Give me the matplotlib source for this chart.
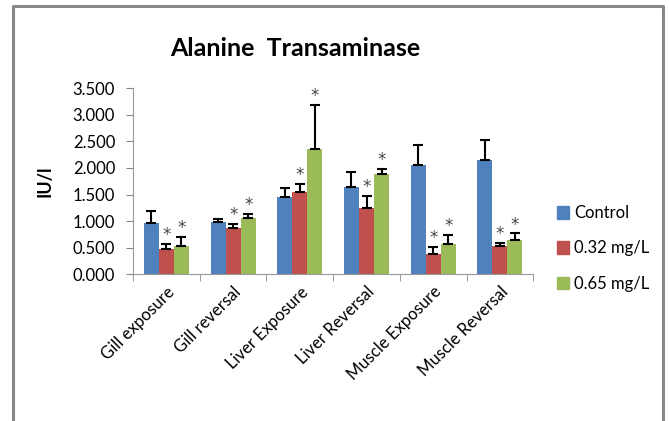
import matplotlib.pyplot as plt
import matplotlib.patches as mpatches
import numpy as np

plt.rcParams["font.family"] = ["Lato", "DejaVu Sans"]

categories = ["Gill exposure", "Gill reversal", "Liver Exposure",
              "Liver Reversal", "Muscle Exposure", "Muscle Reversal"]
control = [0.96, 0.99, 1.46, 1.64, 2.06, 2.15]
control_err = [0.22, 0.05, 0.16, 0.28, 0.37, 0.38]
low = [0.47, 0.86, 1.55, 1.25, 0.37, 0.53]
low_err = [0.10, 0.08, 0.15, 0.23, 0.14, 0.06]
high = [0.53, 1.06, 2.35, 1.89, 0.57, 0.64]
high_err = [0.17, 0.08, 0.84, 0.10, 0.17, 0.13]
low_star = [True] * 6
high_star = [True] * 6

series = [("Control", control, control_err, "#4F81BD", [False] * 6),
          ("0.32 mg/L", low, low_err, "#C0504D", low_star),
          ("0.65 mg/L", high, high_err, "#9BBB59", high_star)]

fig = plt.figure(figsize=(6.69, 4.21), dpi=100)
ax = fig.add_axes([0.199, 0.349, 0.598, 0.441])

x = np.arange(len(categories))
w = 0.225
handles = []
for i, (name, vals, errs, col, stars) in enumerate(series):
    pos = x + (i - 1) * w
    ax.bar(pos, vals, w, color=col, edgecolor="none", zorder=2)
    ax.errorbar(pos, vals, yerr=[np.zeros(len(vals)), errs], fmt="none",
                ecolor="black", elinewidth=1.5, capsize=3.5, capthick=1.5, zorder=3)
    for p, v, e, s in zip(pos, vals, errs, stars):
        if s:
            ax.text(p, v + e + 0.07, "*", ha="center", va="baseline",
                    fontsize=12, color="#444444", family="DejaVu Sans")
    handles.append(mpatches.Patch(color=col, label=name))

ax.set_xlim(-0.5, len(categories) - 0.5)
ax.set_ylim(0, 3.5)
ax.set_yticks(np.arange(0, 3.51, 0.5))
ax.set_yticklabels(["%.3f" % v for v in np.arange(0, 3.51, 0.5)], fontsize=12)
ax.set_xticks(x)
ax.set_xticklabels(categories, rotation=45, ha="right", rotation_mode="anchor",
                   fontsize=12)
ax.set_xticks(np.arange(-0.5, len(categories)), minor=True)
ax.tick_params(axis="x", which="major", length=0, pad=7)
ax.tick_params(axis="x", which="minor", length=5, color="#888888")
ax.tick_params(axis="y", length=5, color="#888888", pad=8)
for s in ["top", "right"]:
    ax.spines[s].set_visible(False)
for s in ["left", "bottom"]:
    ax.spines[s].set_color("#999999")

ax.set_ylabel("IU/l", fontsize=13, fontweight="bold", labelpad=14)

fig.text(0.441, 0.885, "Alanine  Transaminase", ha="center", va="center",
         fontsize=18, fontweight="bold")

fig.legend(handles=handles, loc="center left", bbox_to_anchor=(0.81, 0.41),
           frameon=False, fontsize=12, handlelength=0.75, handleheight=0.75,
           handletextpad=0.3, labelspacing=1.15)

# outer frame
frame = plt.Line2D([13 / 669, 13 / 669, 663 / 669, 663 / 669],
                   [0, 1 - 6 / 421, 1 - 6 / 421, 0],
                   transform=fig.transFigure, color="#888888", lw=2.2)
fig.add_artist(frame)

plt.savefig("out.png", dpi=100)
